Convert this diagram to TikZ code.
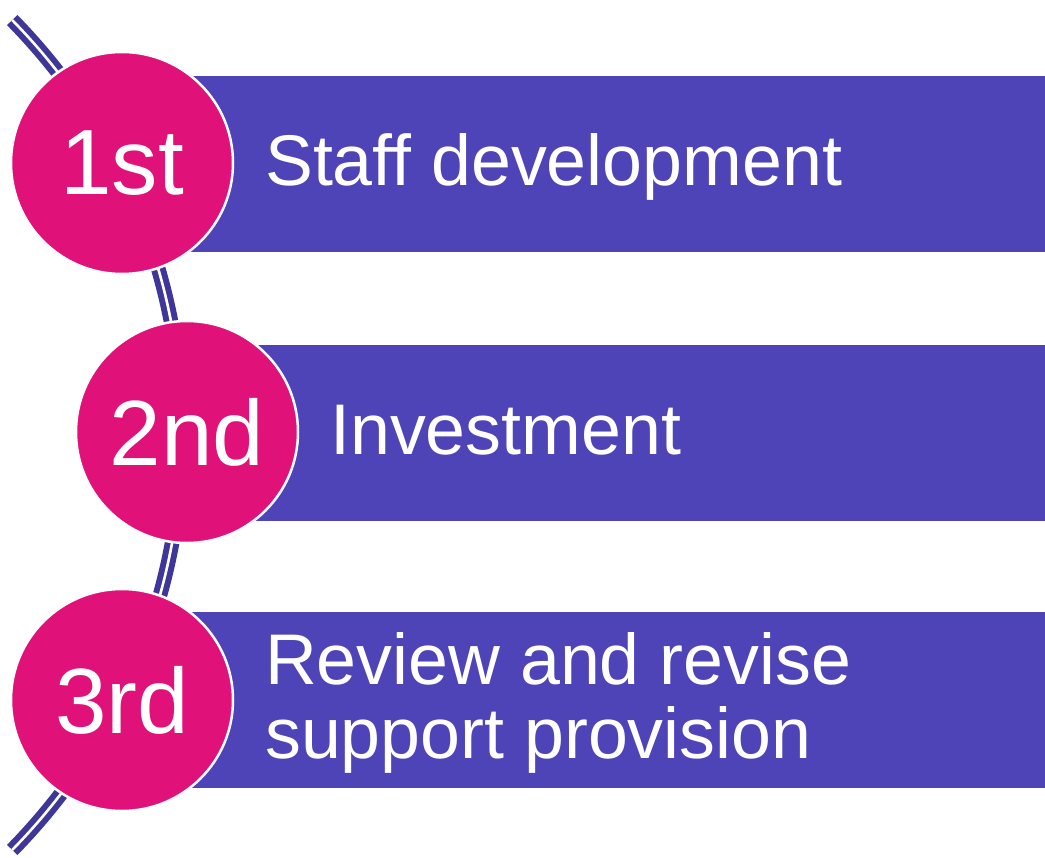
\documentclass[tikz,border=0pt]{standalone}
\usepackage{fontspec}
\setmainfont{Liberation Sans}
\definecolor{barblue}{HTML}{4F44B7}
\definecolor{discpink}{HTML}{E0127A}
\definecolor{arcblue}{HTML}{3E3799}
\tikzset{
    numdisc/.style={circle, fill=discpink, draw=white, line width=2.5bp,
        minimum size=222bp, inner sep=0pt, text=white,
        font=\fontsize{93}{93}\selectfont},
    bartext/.style={text=white, inner sep=0pt, align=left,
        font=\fontsize{72}{74}\selectfont},
}
\begin{document}
\begin{tikzpicture}[x=1bp, y=-1bp]
    \useasboundingbox (0, 0) rectangle (1045, 858);
    \coordinate (O)  at (-410, 435);
    \coordinate (C1) at (122, 163);
    \coordinate (C2) at (187, 432);
    \coordinate (C3) at (122, 700);

    % the bars
    \fill[barblue] (190,  76) rectangle (1045, 252);
    \fill[barblue] (255, 345) rectangle (1045, 521);
    \fill[barblue] (190, 612) rectangle (1045, 788);

    % the guide arc behind the discs
    \draw[arcblue, line width=6bp, double=white, double distance=2.6bp]
        (O) ++(-44.5:592) arc[start angle=-44.5, end angle=44.5, radius=592];

    \node[numdisc] (n1) at (C1) {1st};
    \node[numdisc] (n2) at (C2) {2nd};
    \node[numdisc] (n3) at (C3) {3rd};

    \node[bartext, anchor=base west] (t1) at (265, 185) {Staff development};
    \node[bartext, anchor=base west] (t2) at (330, 454) {Investment};
    \node[bartext, anchor=west]      (t3) at (265, 703) {Review and revise\\support provision};
\end{tikzpicture}
\end{document}
